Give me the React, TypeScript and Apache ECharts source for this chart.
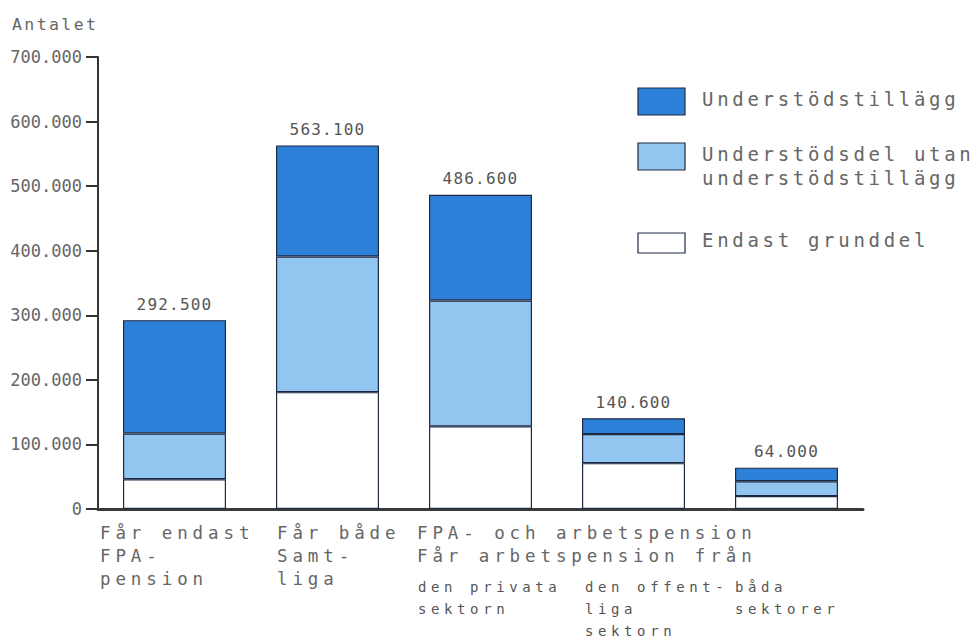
import React, { useEffect, useRef } from "react";
import * as echarts from "echarts";

// ---- data ----
const categories = [
  "Får endast FPA-pension",
  "Får både FPA- och arbetspension: Samtliga",
  "Får arbetspension från den privata sektorn",
  "Får arbetspension från den offentliga sektorn",
  "Får arbetspension från båda sektorer",
];
const seriesNames = ["Endast grunddel", "Understödsdel utan\nunderstödstillägg", "Understödstillägg"];
const endastGrunddel = [46000, 181000, 128000, 71000, 20000];
const understodsdel = [71000, 210000, 195000, 45000, 23000];
const understodstillagg = [175500, 172100, 163600, 24600, 21000];
const totals = [292500, 563100, 486600, 140600, 64000];
const yMin = 0;
const yMax = 700000;
const yStep = 100000;
const yAxisTitle = "Antalet";
const mainLabelLines = [
  ["Får endast", "FPA-", "pension"],
  ["Får både", "Samt-", "liga"],
];
const groupHeaderLines = ["FPA- och arbetspension", "Får arbetspension från"];
const subLabelLines = [
  ["den privata", "sektorn"],
  ["den offent-", "liga", "sektorn"],
  ["båda", "sektorer"],
];

const fmt = (n: number) =>
  n === 0 ? "0" : String(n).replace(/\B(?=(\d{3})+(?!\d))/g, ".");

const DARK = "#2c80d8";
const LIGHT = "#92c6f0";
const BORDER = "#1e2a44";
const TXT = "#666666";
const MONO = "DejaVu Sans Mono";

export default function App() {
  const ref = useRef<HTMLDivElement>(null);

  useEffect(() => {
    document.body.style.margin = "0";
    if (!ref.current) return;
    const chart = echarts.init(ref.current, undefined, { renderer: "svg" });

    const graphic: any[] = [];
    graphic.push({
      type: "text",
      x: 12,
      y: 24,
      style: { text: yAxisTitle, fontSize: 16.5, fontFamily: MONO, fill: TXT, align: "left", verticalAlign: "middle" },
    });

    // main category labels (big font)
    const bigRows = [533, 556, 579];
    const mainX = [100, 277];
    mainLabelLines.forEach((lines, i) => {
      lines.forEach((t, r) => {
        graphic.push({
          type: "text",
          x: mainX[i],
          y: bigRows[r],
          style: { text: t, fontSize: 17.5, fontFamily: MONO, fill: TXT, align: "left", verticalAlign: "middle" },
        });
      });
    });
    groupHeaderLines.forEach((t, r) => {
      graphic.push({
        type: "text",
        x: 417,
        y: bigRows[r],
        style: { text: t, fontSize: 17.5, fontFamily: MONO, fill: TXT, align: "left", verticalAlign: "middle" },
      });
    });
    const smallRows = [587, 609, 631];
    const subX = [418, 585, 735];
    subLabelLines.forEach((lines, i) => {
      lines.forEach((t, r) => {
        graphic.push({
          type: "text",
          x: subX[i],
          y: smallRows[r],
          style: { text: t, fontSize: 14, fontFamily: MONO, fill: "#555", align: "left", verticalAlign: "middle" },
        });
      });
    });

    // legend
    const legendItems = [
      { name: seriesNames[2], fill: DARK, box: [88, 27], textY: [99] },
      { name: seriesNames[1], fill: LIGHT, box: [143, 27], textY: [154, 178] },
      { name: seriesNames[0], fill: "#ffffff", box: [233, 20], textY: [240] },
    ];
    legendItems.forEach((it) => {
      graphic.push({
        type: "rect",
        shape: { x: 638, y: it.box[0], width: 47, height: it.box[1] },
        style: { fill: it.fill, stroke: BORDER, lineWidth: 1.2 },
      });
      it.name.split("\n").forEach((t, k) => {
        graphic.push({
          type: "text",
          x: 702,
          y: it.textY[k],
          style: { text: t, fontSize: 19, fontFamily: MONO, fill: TXT, align: "left", verticalAlign: "middle" },
        });
      });
    });

    const barCommon = {
      type: "bar",
      stack: "total",
      barWidth: 103,
    };

    chart.setOption({
      animation: false,
      backgroundColor: "#ffffff",
      grid: { left: 98, right: 114, top: 57, bottom: 130, containLabel: false },
      xAxis: {
        type: "category",
        data: categories,
        axisLine: { show: true, lineStyle: { color: "#3a3a3a", width: 3 } },
        axisTick: { show: false },
        axisLabel: { show: false },
      },
      yAxis: {
        type: "value",
        min: yMin,
        max: yMax,
        interval: yStep,
        axisLine: { show: true, lineStyle: { color: "#333", width: 2 } },
        axisTick: { show: true, length: 12, lineStyle: { color: "#333", width: 2 } },
        axisLabel: {
          margin: 16,
          fontSize: 17,
          fontFamily: MONO,
          color: TXT,
          formatter: (v: number) => fmt(v),
        },
        splitLine: { show: false },
      },
      series: [
        {
          ...barCommon,
          name: seriesNames[0],
          data: endastGrunddel,
          itemStyle: { color: "#ffffff", borderColor: BORDER, borderWidth: 1.2 },
        },
        {
          ...barCommon,
          name: seriesNames[1],
          data: understodsdel,
          itemStyle: { color: LIGHT, borderColor: BORDER, borderWidth: 1.2 },
        },
        {
          ...barCommon,
          name: seriesNames[2],
          data: understodstillagg,
          itemStyle: { color: DARK, borderColor: BORDER, borderWidth: 1.2 },
          label: {
            show: true,
            position: "top",
            distance: 8,
            fontSize: 16,
            fontFamily: MONO,
            color: "#555",
            formatter: (p: any) => fmt(totals[p.dataIndex]),
          },
        },
      ],
      graphic,
    });

    return () => chart.dispose();
  }, []);

  return (
    <>
      <style>{`
        #chart text[style*="16px"] { letter-spacing: 1.2px; }
        #chart text[style*="16.5px"] { letter-spacing: 2.4px; }
        #chart text[style*="17.5px"] { letter-spacing: 4.9px; }
        #chart text[style*="14px"] { letter-spacing: 4.6px; }
        #chart text[style*="19px"] { letter-spacing: 3.7px; }
      `}</style>
      <div id="chart" ref={ref} style={{ width: 977, height: 639 }} />
    </>
  );
}
